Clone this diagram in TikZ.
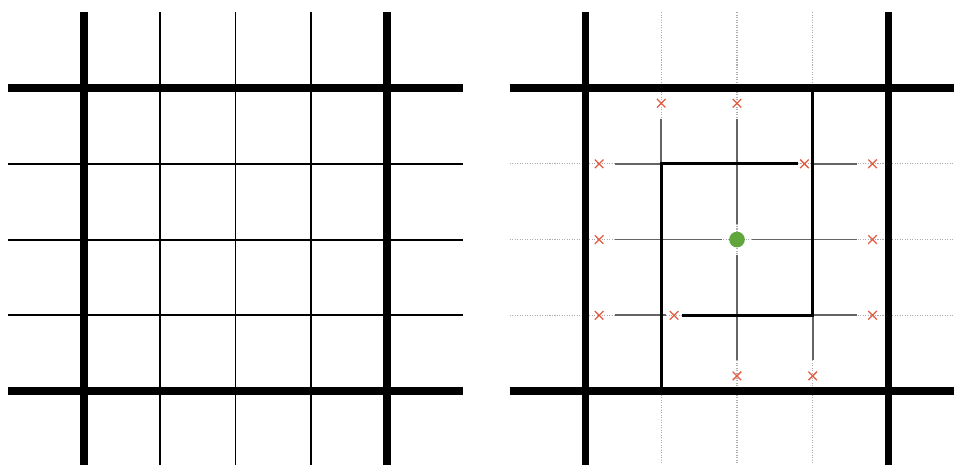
\documentclass[tikz,border=0pt]{standalone}
\usetikzlibrary{shapes.misc}
\definecolor{markred}{RGB}{226,92,66}
\definecolor{hubgreen}{RGB}{96,166,60}
\definecolor{trailgray}{RGB}{100,100,100}
\definecolor{gridgray}{RGB}{170,172,178}
\begin{document}
\begin{tikzpicture}[
x=1.5cm, y=-1.5cm,
major/.style={line width=4pt},
minor/.style={line width=1.1pt},
wall/.style={line width=1.9pt},
faint/.style={draw=gridgray, line width=0.6pt, dash pattern=on 0.6pt off 0.8pt},
trail/.style={draw=trailgray, line width=1pt, shorten <=2.2mm, shorten >=2.2mm},
cand/.style={
cross out,
draw=markred,
line width=0.7pt,
minimum size=1.7mm,
inner sep=0pt,
outer sep=0pt
},
hub/.style={circle, fill=hubgreen, minimum size=3.1mm, inner sep=0pt}
]
\useasboundingbox (-1.109,-1.162) rectangle (11.485,4.964);
\draw[minor] \foreach \k in {1,2,3} {(\k,-1) -- (\k,5) (-1,\k) -- (5,\k)};
\draw[major] \foreach \k in {0,4} {(\k,-1) -- (\k,5) (-1,\k) -- (5,\k)};
\begin{scope}[shift={(6.62,0)}]
\draw[faint] \foreach \k in {1,2,3} {(\k,-1) -- (\k,5) (-1,\k) -- (5,\k)};
\node[cand] (n1) at (1,0.2) {};
\node[cand] (n2) at (2,0.2) {};
\node[cand] (w1) at (0.18,1) {};
\node[cand] (m1) at (2.89,1) {};
\node[cand] (e1) at (3.79,1) {};
\node[cand] (w2) at (0.18,2) {};
\node[cand] (e2) at (3.79,2) {};
\node[cand] (w3) at (0.18,3) {};
\node[cand] (m3) at (1.17,3) {};
\node[cand] (e3) at (3.79,3) {};
\node[cand] (s2) at (2,3.8) {};
\node[cand] (s3) at (3,3.8) {};
\node[hub] (c) at (2,2) {};
\coordinate (k1) at (1,1);
\coordinate (k3) at (3,3);
\draw[trail, shorten >=0.7mm] (w1) -- (m1);
\draw[trail, shorten <=0.7mm] (m1) -- (e1);
\draw[trail, shorten >=1.4mm] (w2) -- (c);
\draw[trail, shorten <=1.4mm] (c) -- (e2);
\draw[trail, shorten >=0.7mm] (w3) -- (m3);
\draw[trail, shorten <=0.7mm] (m3) -- (e3);
\draw[trail, shorten >=0pt] (n1) -- (k1);
\draw[trail, shorten >=1.4mm] (n2) -- (c);
\draw[trail, shorten <=1.4mm] (c) -- (s2);
\draw[trail, shorten >=0pt] (s3) -- (k3);
\draw[wall] (3,0) -- (k3) -- (1.28,3);
\draw[wall] (1,4) -- (k1) -- (2.8,1);
\draw[major] \foreach \k in {0,4} {(\k,-1) -- (\k,5) (-1,\k) -- (5,\k)};
\end{scope}
\end{tikzpicture}
\end{document}
